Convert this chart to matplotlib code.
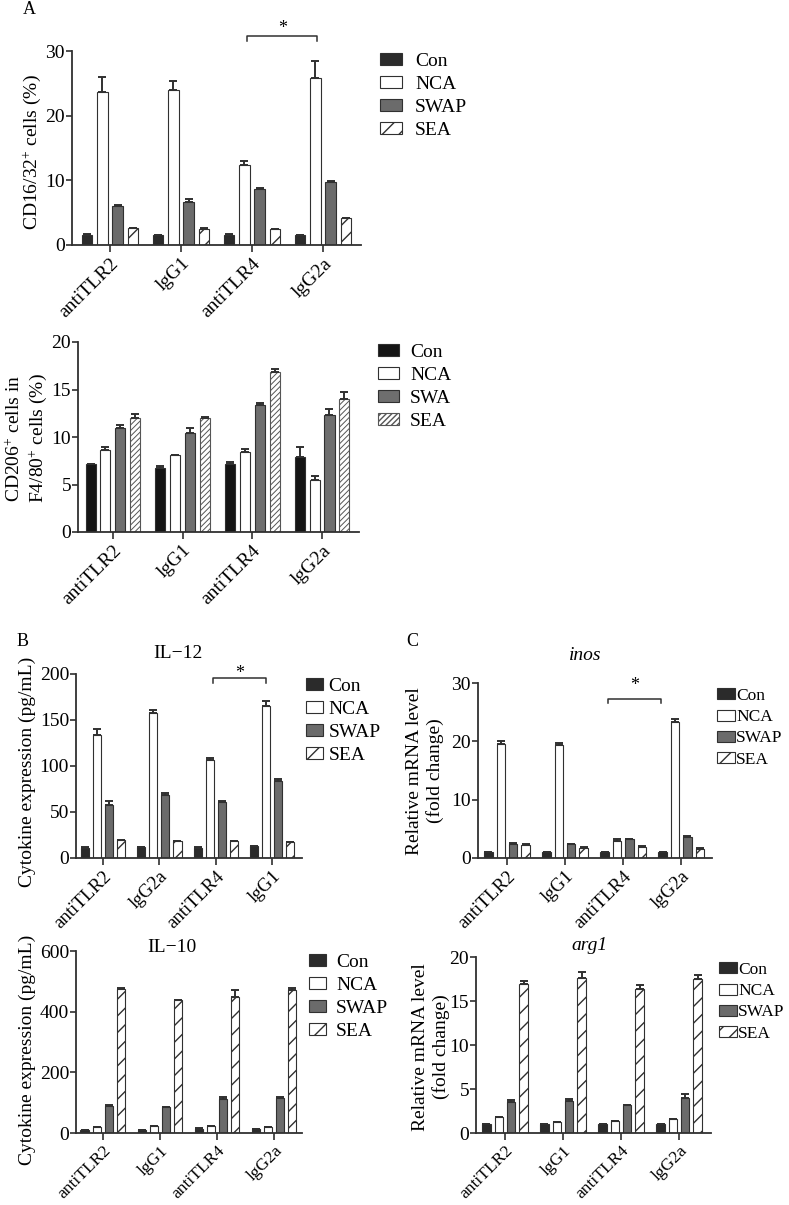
import matplotlib
matplotlib.use("Agg")
import matplotlib.pyplot as plt
import numpy as np

plt.rcParams['font.family'] = ['Liberation Serif', 'DejaVu Serif']
plt.rcParams['mathtext.fontset'] = 'custom'
plt.rcParams['mathtext.rm'] = 'Liberation Serif'
plt.rcParams['mathtext.it'] = 'Liberation Serif:italic'
plt.rcParams['hatch.linewidth'] = 1.0

W, H = 789, 1205

# ---- data ----
groups_a = ["antiTLR2", "lgG1", "antiTLR4", "lgG2a"]
groups_b12 = ["antiTLR2", "lgG2a", "antiTLR4", "lgG1"]

# A top: CD16/32+ cells (%)
a1_con = [1.6, 1.5, 1.6, 1.5]
a1_nca = [23.6, 23.9, 12.3, 25.9]
a1_swap = [6.1, 6.7, 8.6, 9.7]
a1_sea = [2.6, 2.5, 2.4, 4.1]
a1_con_err = [0.1, 0.05, 0.05, 0.05]
a1_nca_err = [2.4, 1.4, 0.7, 2.6]
a1_swap_err = [0.15, 0.4, 0.15, 0.2]
a1_sea_err = [0.1, 0.1, 0.1, 0.1]

# A bottom: CD206+ cells in F4/80+ cells (%)
a2_con = [7.15, 6.7, 7.2, 7.85]
a2_nca = [8.6, 8.1, 8.4, 5.5]
a2_swa = [10.9, 10.45, 13.35, 12.3]
a2_sea = [12.05, 12.05, 16.85, 14.0]
a2_con_err = [0.05, 0.25, 0.15, 1.05]
a2_nca_err = [0.3, 0.05, 0.3, 0.4]
a2_swa_err = [0.4, 0.55, 0.25, 0.7]
a2_sea_err = [0.35, 0.05, 0.35, 0.75]

# B top: IL-12 (pg/mL)
b1_con = [11.3, 12.0, 11.3, 12.7]
b1_nca = [134, 157.5, 107, 165]
b1_swap = [57.5, 68.4, 60.4, 83.6]
b1_sea = [19.3, 18.2, 18.2, 17.5]
b1_con_err = [0.5, 0.5, 0.5, 0.5]
b1_nca_err = [6, 3.5, 1.4, 6]
b1_swap_err = [4, 2.6, 2.1, 2.2]
b1_sea_err = [0.3, 0.3, 0.3, 0.3]

# C top: inos (fold change)
c1_con = [1.0, 1.0, 1.0, 1.0]
c1_nca = [19.5, 19.4, 2.9, 23.3]
c1_swap = [2.45, 2.35, 3.2, 3.55]
c1_sea = [2.3, 1.8, 1.9, 1.6]
c1_con_err = [0.02, 0.02, 0.02, 0.02]
c1_nca_err = [0.6, 0.4, 0.4, 0.6]
c1_swap_err = [0.1, 0.1, 0.05, 0.25]
c1_sea_err = [0.05, 0.05, 0.2, 0.05]

# B bottom: IL-10 (pg/mL)
b2_con = [10, 10, 14, 12]
b2_nca = [19, 22, 22, 20]
b2_swap = [89, 85, 111, 114]
b2_sea = [474, 437, 448, 472]
b2_con_err = [1, 1, 2, 1]
b2_nca_err = [1, 1, 1, 1]
b2_swap_err = [4, 2, 8, 5]
b2_sea_err = [5, 3, 24, 7]

# C bottom: arg1 (fold change)
c2_con = [1.0, 1.0, 1.0, 1.0]
c2_nca = [1.8, 1.2, 1.35, 1.55]
c2_swap = [3.5, 3.6, 3.15, 4.0]
c2_sea = [16.9, 17.6, 16.35, 17.5]
c2_con_err = [0.02, 0.02, 0.02, 0.02]
c2_nca_err = [0.05, 0.03, 0.03, 0.05]
c2_swap_err = [0.2, 0.25, 0.05, 0.4]
c2_sea_err = [0.4, 0.7, 0.5, 0.4]

labels_swap = ["Con", "NCA", "SWAP", "SEA"]
labels_swa = ["Con", "NCA", "SWA", "SEA"]

EDGE = '#303030'
style_sparse = [dict(color='#2b2b2b', hatch=None), dict(color='white', hatch=None),
                dict(color='#6b6b6b', hatch=None), dict(color='white', hatch='//')]
style_dense = [dict(color='#151515', hatch=None), dict(color='white', hatch=None),
               dict(color='#6e6e6e', hatch=None), dict(color='white', hatch='//////')]

fig = plt.figure(figsize=(W / 100, H / 100), dpi=100)


def px_axes(l, t, r, b):
    return fig.add_axes([l / W, 1 - b / H, (r - l) / W, (b - t) / H])


def panel(box, xlim, groups, vals, errs, labels, styles, ylim, yticks,
          leg, fs=14, xfs=14, hatch_edge=EDGE):
    # leg = (x px, y px, handlelength, handletextpad, fontsize)
    ax = px_axes(*box)
    x = np.arange(len(groups))
    step, width = 0.213, 0.145
    handles = []
    for i, (v, e, lab, st) in enumerate(zip(vals, errs, labels, styles)):
        pos = x + (i - 1.5) * step
        ec = hatch_edge if st['hatch'] and len(st['hatch']) > 2 else EDGE
        with plt.rc_context({'hatch.linewidth': 0.7 if ec != EDGE else 1.0}):
            bars = ax.bar(pos, v, width, color=st['color'], edgecolor=ec,
                          hatch=st['hatch'], linewidth=0.8, zorder=2)
        ax.errorbar(pos, v, yerr=[np.zeros(len(e)), e], fmt='none', ecolor=EDGE,
                    elinewidth=1.4, capsize=2.8, capthick=1.4, zorder=3)
        handles.append(bars)
    ax.set_xlim(*xlim)
    ax.set_ylim(*ylim)
    ax.set_yticks(yticks)
    ax.set_xticks(x)
    ax.set_xticklabels(groups, rotation=45, ha='right', rotation_mode='anchor', fontsize=xfs)
    ax.tick_params(axis='y', labelsize=fs, length=4, width=1.2, color=EDGE, pad=1)
    ax.tick_params(axis='x', length=5, width=1.2, color=EDGE, pad=2)
    for s in ['top', 'right']:
        ax.spines[s].set_visible(False)
    for s in ['left', 'bottom']:
        ax.spines[s].set_linewidth(1.3)
        ax.spines[s].set_color(EDGE)
    lx, ly, hl, hp, lfs = leg
    ax.legend(handles, labels, loc='upper left',
              bbox_to_anchor=(lx / W, 1 - ly / H),
              bbox_transform=fig.transFigure, frameon=False, fontsize=lfs,
              handlelength=hl, handleheight=0.6, handletextpad=hp,
              labelspacing=0.3, borderpad=0, borderaxespad=0)
    return ax


def bracket(ax, x0, x1, y, drop, star_y):
    ax.plot([x0, x0, x1, x1], [y - drop, y, y, y - drop], color=EDGE, lw=1.1,
            clip_on=False)
    ax.text((x0 + x1) / 2, star_y, '*', ha='center', va='center', fontsize=13)


ax_a1 = panel((72, 51, 361, 245), (-0.535, 3.535), groups_a,
              [a1_con, a1_nca, a1_swap, a1_sea],
              [a1_con_err, a1_nca_err, a1_swap_err, a1_sea_err],
              labels_swap, style_sparse, (0, 30), [0, 10, 20, 30],
              (380, 53, 1.15, 0.65, 14))
bracket(ax_a1, 1.93, 2.92, 32.3, 0.7, 33.5)

ax_a2 = panel((78, 342, 359, 532), (-0.5, 3.53), groups_a,
              [a2_con, a2_nca, a2_swa, a2_sea],
              [a2_con_err, a2_nca_err, a2_swa_err, a2_sea_err],
              labels_swa, style_dense, (0, 20), [0, 5, 10, 15, 20],
              (378, 344, 1.1, 0.55, 14), hatch_edge='#555555')

ax_b1 = panel((76, 674, 302, 858), (-0.48, 3.53), groups_b12,
              [b1_con, b1_nca, b1_swap, b1_sea],
              [b1_con_err, b1_nca_err, b1_swap_err, b1_sea_err],
              labels_swap, style_sparse, (0, 200), [0, 50, 100, 150, 200],
              (306, 678, 0.85, 0.3, 14), xfs=13.5)
bracket(ax_b1, 1.95, 2.9, 195.6, 5, 201)

ax_c1 = panel((478, 683, 712, 858), (-0.5, 3.53), groups_a,
              [c1_con, c1_nca, c1_swap, c1_sea],
              [c1_con_err, c1_nca_err, c1_swap_err, c1_sea_err],
              labels_swap, style_sparse, (0, 30), [0, 10, 20, 30],
              (717, 688, 1.05, 0.05, 12.5), xfs=13.5)
bracket(ax_c1, 1.74, 2.66, 27.3, 0.7, 29.6)

ax_b2 = panel((76, 951, 302, 1133), (-0.47, 3.49), groups_a,
              [b2_con, b2_nca, b2_swap, b2_sea],
              [b2_con_err, b2_nca_err, b2_swap_err, b2_sea_err],
              labels_swap, style_sparse, (0, 600), [0, 200, 400, 600],
              (309, 954, 0.85, 0.55, 14), xfs=12.5)

ax_c2 = panel((476, 957, 711, 1133), (-0.5, 3.55), groups_a,
              [c2_con, c2_nca, c2_swap, c2_sea],
              [c2_con_err, c2_nca_err, c2_swap_err, c2_sea_err],
              labels_swap, style_sparse, (0, 20), [0, 5, 10, 15, 20],
              (719, 962, 1.05, 0.05, 12.5), xfs=12.5)


def ftext(x, y, s, **kw):
    fig.text(x / W, 1 - y / H, s, ha='center', va='center', **kw)


# y labels
ftext(32, 152, 'CD16/32$^{+}$ cells (%)', rotation=90, fontsize=14)
ftext(27, 438, 'CD206$^{+}$ cells in\nF4/80$^{+}$ cells (%)', rotation=90, fontsize=14,
      linespacing=1.2)
ftext(27, 772, 'Cytokine expression (pg/mL)', rotation=90, fontsize=14)
ftext(27, 1050, 'Cytokine expression (pg/mL)', rotation=90, fontsize=14)
ftext(425, 771, 'Relative mRNA level\n(fold change)', rotation=90, fontsize=14,
      linespacing=1.2)
ftext(431, 1047, 'Relative mRNA level\n(fold change)', rotation=90, fontsize=14,
      linespacing=1.2)

# panel titles and letters
ftext(178, 653, 'IL\u221212', fontsize=14)
ftext(585, 655, 'inos', fontsize=14, style='italic')
ftext(172, 948, 'IL\u221210', fontsize=14)
ftext(589, 946, 'arg1', fontsize=14, style='italic')
ftext(29, 10, 'A', fontsize=13)
ftext(23, 641, 'B', fontsize=13)
ftext(412, 641, 'C', fontsize=13)

fig.savefig('out.png', dpi=100)
